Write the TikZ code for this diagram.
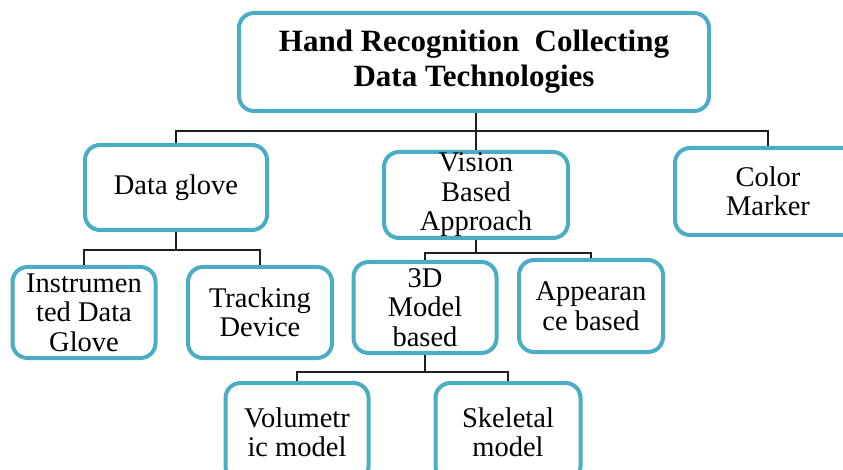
\documentclass[tikz,border=0pt]{standalone}
\usepackage{fontspec}
\setmainfont{Liberation Serif}
\definecolor{boxline}{RGB}{75,172,198}
\definecolor{wire}{RGB}{30,30,30}
\tikzset{
  techbox/.style={draw=boxline, line width=4pt, rounded corners=15pt, fill=white,
    inner sep=0pt, align=center, font=\fontsize{28.5}{29.5}\selectfont},
  rootbox/.style={techbox, font=\fontsize{31}{35}\selectfont\bfseries},
  wireline/.style={draw=wire, line width=1.6pt}
}
\begin{document}
\begin{tikzpicture}[x=1pt, y=-1pt]
\useasboundingbox (0,0) rectangle (843,470);
\clip (0,0) rectangle (843,470);

% boxes
\node[rootbox, minimum width=470pt, minimum height=98pt] (root) at (474,62)
  {Hand Recognition~ Collecting\\Data Technologies};
\node[techbox, minimum width=182pt, minimum height=85pt] (dg) at (176,187.5) {Data glove};
\node[techbox, minimum width=184pt, minimum height=86pt] (vis) at (476,195) {Vision\\Based\\Approach};
\node[techbox, minimum width=186pt, minimum height=87pt] (cm) at (768,191.5) {Color\\Marker};
\node[techbox, minimum width=143pt, minimum height=91pt] (idg) at (84,312.5) {Instrumen\\ted Data\\Glove};
\node[techbox, minimum width=144pt, minimum height=91pt] (td) at (260,312.5) {Tracking\\Device};
\node[techbox, minimum width=143pt, minimum height=91pt] (m3d) at (425,307.5) {3D\\Model\\based};
\node[techbox, minimum width=144pt, minimum height=92pt] (app) at (591,306) {Appearan\\ce based};
\node[techbox, minimum width=143pt, minimum height=98pt] (vol) at (297,432) {Volumetr\\ic model};
\node[techbox, minimum width=145pt, minimum height=98pt] (skel) at (508,432) {Skeletal\\model};

% bus junctions
\coordinate (bus) at (476,131);
\coordinate (dgbus) at (176,250);
\coordinate (visbus) at (476,253);
\coordinate (mbus) at (425,372);

% connectors
\draw[wireline] (root.south -| bus) -- (vis.north);
\draw[wireline] (dg.north) |- (bus) -| (cm.north);
\draw[wireline] (dg.south) -- (dgbus);
\draw[wireline] (idg.north) |- (dgbus) -| (td.north);
\draw[wireline] (vis.south) -- (visbus);
\draw[wireline] (m3d.north) |- (visbus) -| (app.north);
\draw[wireline] (m3d.south) -- (mbus);
\draw[wireline] (vol.north) |- (mbus) -| (skel.north);
\end{tikzpicture}
\end{document}
